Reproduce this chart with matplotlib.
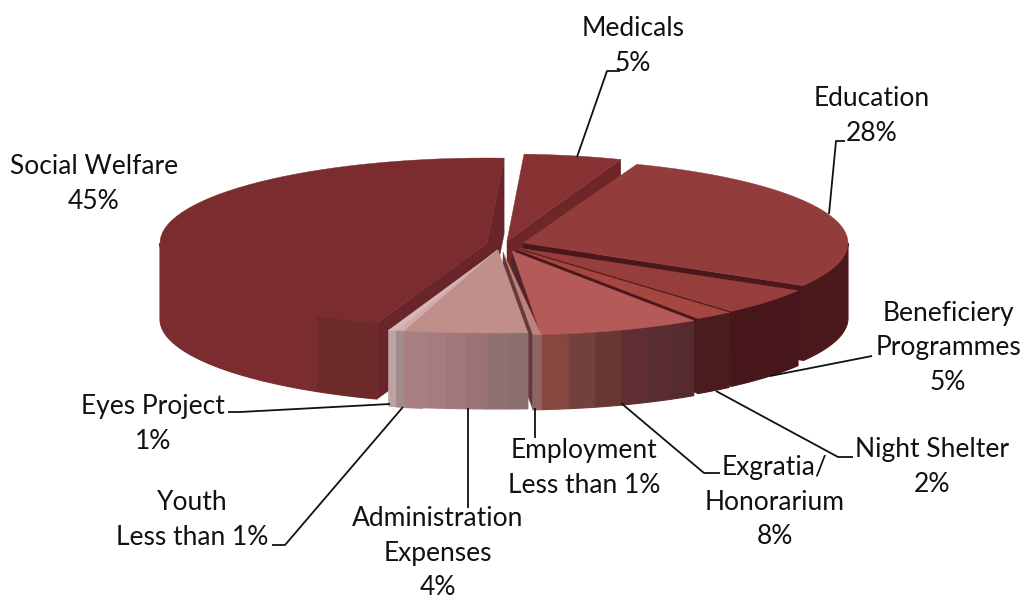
import numpy as np
import matplotlib
matplotlib.use("Agg")
import matplotlib.pyplot as plt
from matplotlib.patches import Polygon

plt.rcParams['font.family'] = ['Lato', 'DejaVu Sans']

#Chart data, clockwise from the top
names = ['Medicals', 'Education', 'Beneficiery\nProgrammes', 'Night Shelter', 'Exgratia/\nHonorarium',
         'Employment', 'Administration\nExpenses', 'Youth', 'Eyes Project', 'Social Welfare']
pct_labels = ['5%', '28%', '5%', '2%', '8%', 'Less than 1%', '4%', 'Less than 1%', '1%', '45%']
values = [4.86, 27.78, 5.14, 1.94, 8.03, 0.31, 4.58, 0.28, 1.70, 45.38]

#Slice layout
start_angle = 3
apex = [(507, 241), (523, 243), (518, 248), (516, 249), (512, 251),
        (503, 252), (498, 250), (497, 250), (498, 250), (487, 243)]
rx = [325, 325, 325, 325, 325, 430, 430, 430, 325, 327]
ry = [87, 84, 84, 84, 84, 83, 83, 83, 85, 85]
depth = [75, 75, 75, 75, 75, 75, 76, 76, 76, 76]
top_colors = ['#873232', '#933c3c', '#963e3c', '#a54641', '#b45a58', '#be8278', '#c18f8a', '#d2aaaa', '#d7b9b9', '#7a2c2e']
face_colors = ['#6e2628', '#4a181b', '#4a181b', '#4a181b', '#50262a', '#64383c', '#8a6466', '#a08888', '#b09898', '#69252a']
wall_colors = [
    ['#6e2628'],
    ['#4b191c'],
    ['#46161a'],
    ['#4b1c1e'],
    ['#552a30', '#5a2d32', '#5f2d32', '#693732', '#73413c', '#874640'],
    ['#8c6466'],
    ['#8a6e70', '#917072', '#9b7376', '#a0787a', '#a57d80', '#a88082'],
    ['#a08c8c'],
    ['#bea5a5', '#bca3a3'],
    ['#6c2a28', '#7a2c2e', '#7a2c2e', '#7a2c2e', '#7a2c2e', '#7a2c2e'],
]
#Back to front
draw_order = [9, 0, 1, 2, 3, 4, 5, 8, 7, 6]

#Labels and leader lines
label_pos = [(633, 46), (872, 116), (948, 348), (932, 467), (775, 502),
             (584, 468), (438, 553), (192, 520), (153, 424), (94, 184)]
leaders = [
    [(620, 71), (607, 71), (577, 157)],
    [(845, 141), (836, 141), (829, 214)],
    [(872, 356), (770, 376)],
    [(853, 457), (838, 457), (716, 391)],
    [(720, 473), (704, 473), (621, 403)],
    [(535, 438), (535, 408)],
    [(468, 508), (468, 408)],
    [(272, 545), (285, 545), (403, 407)],
    [(228, 412), (240, 412), (390, 404)],
]


def arc(i, t1, t2, dy=0):
    t = np.radians(np.linspace(t1, t2, 60))
    x = apex[i][0] + rx[i] * np.sin(t)
    y = apex[i][1] - ry[i] * np.cos(t) + dy
    return np.column_stack([x, y])


def draw_face(ax, i, t):
    outer = arc(i, t, t)[0]
    pts = [apex[i], outer, (outer[0], outer[1] + depth[i]), (apex[i][0], apex[i][1] + depth[i])]
    ax.add_patch(Polygon(pts, closed=True, fc=face_colors[i], ec=face_colors[i], lw=0.3))


fig = plt.figure(figsize=(10.23, 6), dpi=100)
ax = fig.add_axes([0, 0, 1, 1])
ax.set_xlim(0, 1023)
ax.set_ylim(600, 0)
ax.axis('off')

#Turn the values into angles
angles = start_angle + np.concatenate([[0], np.cumsum(values)]) / np.sum(values) * 360

for i in draw_order:
    t1, t2 = angles[i], angles[i + 1]

    #Cut faces
    if i == 9:
        draw_face(ax, i, t1)
        draw_face(ax, i, t2)
    elif t2 < 180:
        draw_face(ax, i, t2)
    elif t1 > 180:
        draw_face(ax, i, t1)

    #Outer wall, in bands
    w1, w2 = max(t1, 90), min(t2, 270)
    if w2 > w1:
        edges = np.linspace(w1, w2, len(wall_colors[i]) + 1)
        for k, c in enumerate(wall_colors[i]):
            top = arc(i, edges[k], edges[k + 1])
            bottom = arc(i, edges[k], edges[k + 1], depth[i])[::-1]
            ax.add_patch(Polygon(np.vstack([top, bottom]), closed=True, fc=c, ec=c, lw=0.8))

    #Top surface
    pts = np.vstack([[apex[i]], arc(i, t1, t2)])
    ax.add_patch(Polygon(pts, closed=True, fc=top_colors[i], ec=top_colors[i], lw=0.3))

for line in leaders:
    xs, ys = zip(*line)
    ax.plot(xs, ys, color='#111111', lw=1.3, solid_capstyle='butt')

for name, pct, pos in zip(names, pct_labels, label_pos):
    ax.text(pos[0], pos[1], name + '\n' + pct, ha='center', va='center', fontsize=19,
            linespacing=1.47, color='#111111')

fig.savefig('out.png', dpi=100)
